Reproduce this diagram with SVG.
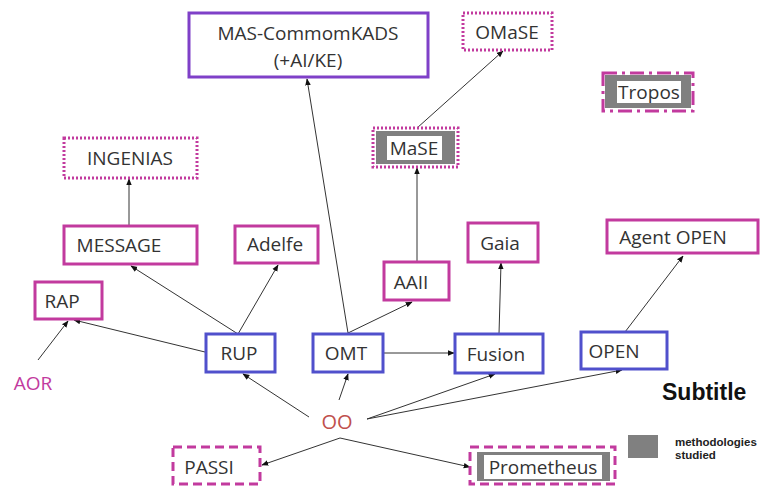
<svg xmlns="http://www.w3.org/2000/svg" width="761" height="486" viewBox="0 0 761 486">
<style>
text{font-family:"Open Sans","Liberation Sans",sans-serif;fill:#333;font-size:19px;text-anchor:middle}
.m{fill:#fff;stroke:#C23A9E;stroke-width:3}
.b{fill:#fff;stroke:#5050CC;stroke-width:3}
.p{fill:#fff;stroke:#7F40C8;stroke-width:3}
.dot{fill:#fff;stroke:#C23A9E;stroke-width:3;stroke-dasharray:2 2}
.dash{fill:none;stroke:#C23A9E;stroke-width:3;stroke-dasharray:9 5}
.dd{fill:none;stroke:#C23A9E;stroke-width:3;stroke-dasharray:14 5 3 5}
.g{fill:#808080}
.w{fill:#fff}
.c line{stroke:#333;stroke-width:1;marker-end:url(#a)}
.lg{font-family:"Liberation Sans",Arial,sans-serif;font-weight:bold;text-anchor:start;fill:#222}
</style>
<defs>
<marker id="a" viewBox="0 0 10 10" refX="9" refY="5" markerWidth="7" markerHeight="7" orient="auto" markerUnits="userSpaceOnUse">
<path d="M0,1 L10,5 L0,9 z" fill="#111"/>
</marker>
</defs>
<g class="c" id="connectors">
<line x1="129" y1="226" x2="129" y2="179"/>
<line x1="238" y1="334" x2="131" y2="266"/>
<line x1="238" y1="334" x2="278" y2="265"/>
<line x1="205" y1="352" x2="74" y2="320"/>
<line x1="38" y1="360" x2="68" y2="321"/>
<line x1="348" y1="333" x2="307" y2="79"/>
<line x1="348" y1="333" x2="412" y2="302"/>
<line x1="417" y1="262" x2="417" y2="168"/>
<line x1="417" y1="128" x2="503" y2="51"/>
<line x1="383" y1="353" x2="454" y2="353"/>
<line x1="499" y1="334" x2="501" y2="263"/>
<line x1="625" y1="332" x2="683" y2="256"/>
<line x1="309" y1="417" x2="243" y2="374"/>
<line x1="339" y1="400" x2="348" y2="374"/>
<line x1="367" y1="419" x2="495" y2="374"/>
<line x1="367" y1="419" x2="622" y2="370"/>
<line x1="340" y1="438" x2="262" y2="465"/>
<line x1="340" y1="438" x2="470" y2="467"/>
</g>
<g id="mas-commonkads"><rect class="p" x="189" y="13" width="239" height="64"/><text x="308" y="40">MAS-CommomKADS</text><text x="308" y="67">(+AI/KE)</text></g>
<g id="omase"><rect class="dot" x="463" y="13" width="89" height="37"/><text x="507" y="39">OMaSE</text></g>
<g id="mase"><rect class="dot" x="373" y="128" width="85" height="39"/><rect class="g" x="376" y="131" width="79" height="33"/><rect class="w" x="387" y="136" width="55" height="24"/><text x="414" y="155">MaSE</text></g>
<g id="tropos"><rect class="g" x="605" y="75" width="86" height="33"/><rect class="w" x="617" y="81" width="64" height="22"/><rect class="dd" x="603" y="73" width="90" height="38"/><text x="649" y="99">Tropos</text></g>
<g id="ingenias"><rect class="dot" x="64" y="138" width="133" height="40"/><text x="130" y="165">INGENIAS</text></g>
<g id="message"><rect class="m" x="64" y="226" width="133" height="38"/><text x="119" y="252">MESSAGE</text></g>
<g id="adelfe"><rect class="m" x="235" y="226" width="83" height="37"/><text x="275" y="251">Adelfe</text></g>
<g id="rap"><rect class="m" x="35" y="282" width="67" height="37"/><text x="62" y="308">RAP</text></g>
<g id="aor"><text x="33" y="390" style="fill:#C23A9E">AOR</text></g>
<g id="aaii"><rect class="m" x="384" y="262" width="65" height="38"/><text x="411" y="289">AAII</text></g>
<g id="gaia"><rect class="m" x="468" y="223" width="70" height="39"/><text x="500" y="250">Gaia</text></g>
<g id="agent-open"><rect class="m" x="607" y="220" width="151" height="33"/><text x="673" y="244">Agent OPEN</text></g>
<g id="rup"><rect class="b" x="206" y="334" width="69" height="38"/><text x="239" y="360">RUP</text></g>
<g id="omt"><rect class="b" x="313" y="334" width="70" height="38"/><text x="346" y="360">OMT</text></g>
<g id="fusion"><rect class="b" x="455" y="334" width="88" height="39"/><text x="496" y="361">Fusion</text></g>
<g id="open"><rect class="b" x="581" y="332" width="86" height="37"/><text x="614" y="358">OPEN</text></g>
<g id="oo"><text x="337" y="429" style="fill:#C0504D;font-size:20px">OO</text></g>
<g id="passi"><rect class="dash" x="173" y="447" width="87" height="37"/><text x="209" y="474">PASSI</text></g>
<g id="prometheus"><rect class="g" x="477" y="452" width="133" height="29"/><rect class="w" x="484" y="455" width="118" height="24"/><rect class="dash" x="470" y="447" width="145" height="37"/><text x="543" y="474">Prometheus</text></g>
<g id="legend"><text class="lg" x="662" y="400" style="font-size:23px;fill:#111">Subtitle</text><rect class="g" x="628" y="435" width="30" height="23"/><text class="lg" x="675" y="446" style="font-size:11.5px">methodologies</text><text class="lg" x="675" y="459" style="font-size:11.5px">studied</text></g>
</svg>
